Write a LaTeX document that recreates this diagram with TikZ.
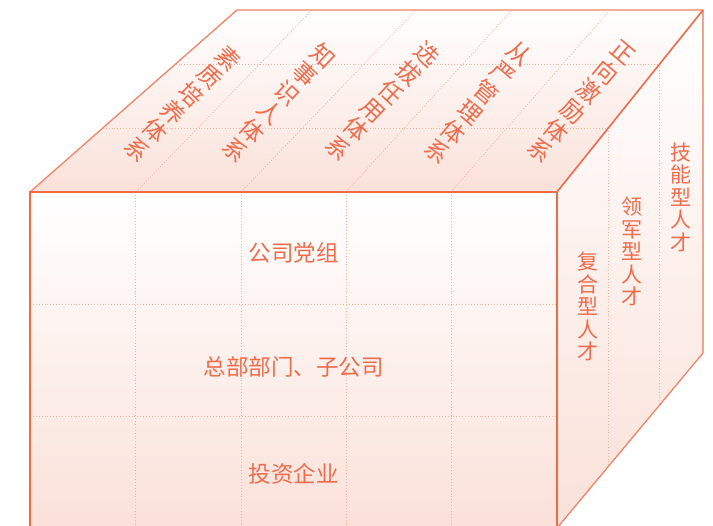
\documentclass[tikz,border=0pt]{standalone}
\usepackage{fontspec}
\setmainfont{Noto Sans CJK SC}
\definecolor{edgeC}{HTML}{EE6A48}
\definecolor{edgeM}{HTML}{F08466}
\definecolor{edgeL}{HTML}{F4A28B}
\definecolor{dotC}{HTML}{F6B3A2}
\definecolor{txtC}{HTML}{EE6C4C}
\definecolor{fillB}{HTML}{FAE1D9}
\tikzset{
  griddot/.style={draw=dotC, line width=0.9pt, dotted},
  fronttext/.style={text=txtC, inner sep=0pt, font=\fontsize{22.5}{24}\selectfont},
  sidetext/.style={text=txtC, inner sep=0pt, align=center, font=\fontsize{21}{22.5}\selectfont},
  toptext/.style={text=txtC, inner sep=0pt, align=center, font=\fontsize{23.5}{25.7}\selectfont},
}
\begin{document}
\begin{tikzpicture}[x=1pt,y=-1pt]
\useasboundingbox (0,0) rectangle (713,526);
\clip (0,0) rectangle (713,526);
% faces
\shade[top color=white, bottom color=fillB] (30,192) -- (237,10) -- (703,10) -- (557,192) -- cycle;
\shade[top color=white, bottom color=fillB] (30,192) rectangle (557,528);
\shade[top color=white, bottom color=fillB] (557,192) -- (703,10) -- (703,353) -- (557,528) -- cycle;
% grid on front face
\foreach \x in {135.5,241,346,451} \draw[griddot] (\x,192) -- (\x,528);
\foreach \y in {304,416} \draw[griddot] (30,\y) -- (557,\y);
% grid on top face
\draw[griddot] (136,192) -- (312,10);
\draw[griddot] (241,192) -- (416,10);
\draw[griddot] (346,192) -- (512,10);
\draw[griddot] (451,192) -- (610,10);
\draw[griddot] (175.6,64) -- (659.7,64);
\draw[griddot] (102.8,128) -- (608.3,128);
% grid on right face
\draw[griddot] (659.7,64) -- (659.7,404.9);
\draw[griddot] (608.3,128) -- (608.3,466.5);
% edges
\draw[edgeM, line width=1.3pt, line join=round] (30,192) -- (237,10) -- (703,10);
\draw[edgeL, line width=1.3pt, line join=round] (703,10) -- (703,353);
\draw[edgeM, line width=1.3pt, line join=round] (703,353) -- (557,528);
\draw[edgeC, line width=1.6pt] (557,192) -- (703,10);
\draw[edgeC, line width=2.2pt] (30,192) rectangle (557,528);
% front texts
\node[fronttext] (f1) at (293.5,253) {公司党组};
\node[fronttext] (f2) at (293.5,367) {总部部门、子公司};
\node[fronttext] (f3) at (293.5,474) {投资企业};
% right face texts
\node[sidetext] (s1) at (681,197) {技\\能\\型\\人\\才};
\node[sidetext] (s2) at (632,251.5) {领\\军\\型\\人\\才};
\node[sidetext] (s3) at (588,306.5) {复\\合\\型\\人\\才};
% top face texts
\node[toptext, rotate=-45] (t1) at (182.5,103.5) {素\\质\\培\\养\\体\\系};
\node[toptext, rotate=-43] (t2) at (279,102.5) {知\\事\\识\\人\\体\\系};
\node[toptext, rotate=-43.5] (t3) at (382.5,101) {选\\拔\\任\\用\\体\\系};
\node[toptext, rotate=-40] (t4) at (478,102.5) {从\\严\\管\\理\\体\\系};
\node[toptext, rotate=-40] (t5) at (581,102) {正\\向\\激\\励\\体\\系};
\end{tikzpicture}
\end{document}
